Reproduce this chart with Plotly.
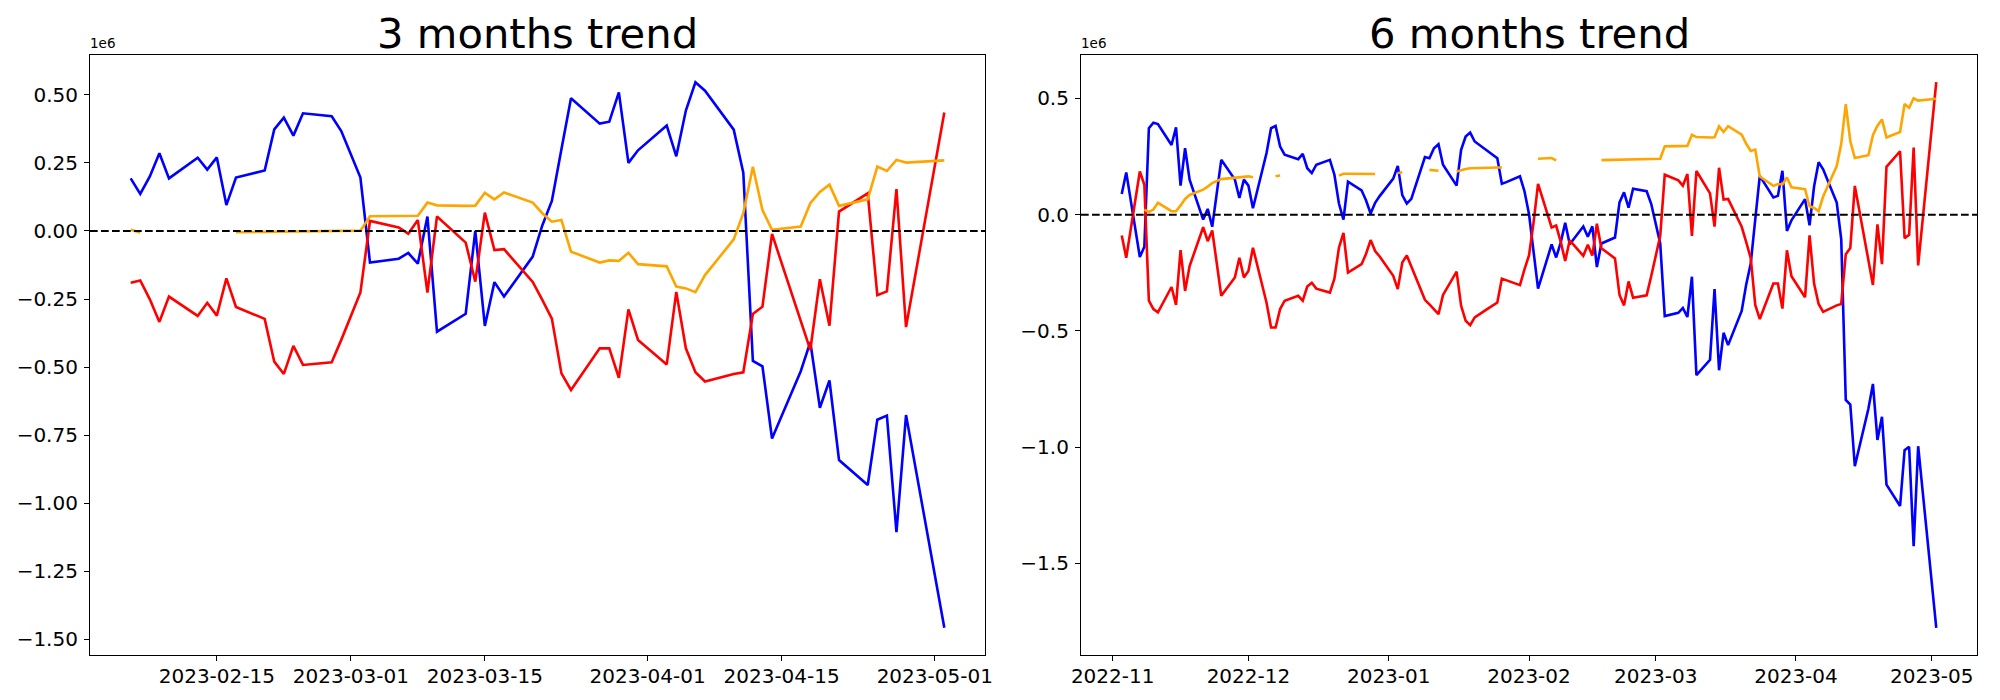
import plotly.graph_objects as go

# ---------------- data (values in units of 1e6) ----------------
left_dates = [
    "2023-02-06", "2023-02-07", "2023-02-08", "2023-02-09", "2023-02-10",
    "2023-02-13", "2023-02-14", "2023-02-15", "2023-02-16", "2023-02-17",
    "2023-02-20", "2023-02-21", "2023-02-22", "2023-02-23", "2023-02-24",
    "2023-02-27", "2023-02-28", "2023-03-01", "2023-03-02", "2023-03-03",
    "2023-03-06", "2023-03-07", "2023-03-08", "2023-03-09", "2023-03-10",
    "2023-03-13", "2023-03-14", "2023-03-15", "2023-03-16", "2023-03-17",
    "2023-03-20", "2023-03-21", "2023-03-22", "2023-03-23", "2023-03-24",
    "2023-03-27", "2023-03-28", "2023-03-29", "2023-03-30", "2023-03-31",
    "2023-04-03", "2023-04-04", "2023-04-05", "2023-04-06", "2023-04-07",
    "2023-04-10", "2023-04-11", "2023-04-12", "2023-04-13", "2023-04-14",
    "2023-04-17", "2023-04-18", "2023-04-19", "2023-04-20", "2023-04-21",
    "2023-04-24", "2023-04-25", "2023-04-26", "2023-04-27", "2023-04-28",
    "2023-05-02",
]
left_blue = [
    0.193, 0.136, 0.200, 0.285, 0.193,
    0.269, 0.225, 0.270, 0.095, 0.196,
    0.222, 0.373, 0.416, 0.350, 0.432,
    0.421, 0.367, 0.282, 0.196, -0.116,
    -0.102, -0.081, -0.120, 0.053, -0.370,
    -0.304, 0.000, -0.349, -0.188, -0.241,
    -0.094, 0.020, 0.110, 0.300, 0.487,
    0.394, 0.401, 0.509, 0.250, 0.296,
    0.387, 0.274, 0.442, 0.546, 0.515,
    0.372, 0.214, -0.477, -0.497, -0.762,
    -0.515, -0.408, -0.649, -0.549, -0.841,
    -0.933, -0.693, -0.678, -1.106, -0.676,
    -1.457,
]
left_red = [
    -0.190, -0.182, -0.251, -0.334, -0.241,
    -0.312, -0.264, -0.311, -0.174, -0.279,
    -0.323, -0.480, -0.525, -0.422, -0.492,
    -0.482, -0.400, -0.315, -0.226, 0.037,
    0.013, -0.010, 0.040, -0.226, 0.053,
    -0.043, -0.186, 0.067, -0.070, -0.067,
    -0.187, -0.253, -0.322, -0.523, -0.584,
    -0.431, -0.431, -0.539, -0.288, -0.400,
    -0.490, -0.224, -0.431, -0.519, -0.553,
    -0.525, -0.519, -0.305, -0.278, -0.011,
    -0.330, -0.437, -0.177, -0.348, 0.071,
    0.138, -0.236, -0.222, 0.154, -0.353,
    0.435,
]
left_orange = [
    0.004, -0.006, None, None, None,
    None, None, None, None, -0.005,
    -0.004, -0.003, -0.002, -0.002, -0.001,
    -0.001, 0.000, 0.000, 0.001, 0.054,
    0.054, 0.054, 0.056, 0.104, 0.094,
    0.092, 0.093, 0.140, 0.116, 0.141,
    0.104, 0.065, 0.034, 0.040, -0.076,
    -0.116, -0.108, -0.110, -0.080, -0.122,
    -0.130, -0.204, -0.211, -0.225, -0.162,
    -0.031, 0.065, 0.236, 0.077, 0.004,
    0.016, 0.102, 0.143, 0.170, 0.092,
    0.116, 0.236, 0.220, 0.261, 0.251,
    0.259,
]

right_dates = [
    "2022-11-03", "2022-11-04", "2022-11-07", "2022-11-08", "2022-11-09",
    "2022-11-10", "2022-11-11", "2022-11-14", "2022-11-15", "2022-11-16",
    "2022-11-17", "2022-11-18", "2022-11-21", "2022-11-22", "2022-11-23",
    "2022-11-25", "2022-11-28", "2022-11-29", "2022-11-30", "2022-12-01",
    "2022-12-02", "2022-12-05", "2022-12-06", "2022-12-07", "2022-12-08",
    "2022-12-09", "2022-12-12", "2022-12-13", "2022-12-14", "2022-12-15",
    "2022-12-16", "2022-12-19", "2022-12-20", "2022-12-21", "2022-12-22",
    "2022-12-23", "2022-12-26", "2022-12-27", "2022-12-28", "2022-12-29",
    "2022-12-30", "2023-01-02", "2023-01-03", "2023-01-04", "2023-01-05",
    "2023-01-06", "2023-01-09", "2023-01-10", "2023-01-11", "2023-01-12",
    "2023-01-13", "2023-01-16", "2023-01-17", "2023-01-18", "2023-01-19",
    "2023-01-20", "2023-01-23", "2023-01-24", "2023-01-25", "2023-01-26",
    "2023-01-27", "2023-01-30", "2023-01-31", "2023-02-01", "2023-02-02",
    "2023-02-03", "2023-02-06", "2023-02-07", "2023-02-08", "2023-02-09",
    "2023-02-10", "2023-02-13", "2023-02-14", "2023-02-15", "2023-02-16",
    "2023-02-17", "2023-02-20", "2023-02-21", "2023-02-22", "2023-02-23",
    "2023-02-24", "2023-02-27", "2023-02-28", "2023-03-01", "2023-03-02",
    "2023-03-03", "2023-03-06", "2023-03-07", "2023-03-08", "2023-03-09",
    "2023-03-10", "2023-03-13", "2023-03-14", "2023-03-15", "2023-03-16",
    "2023-03-17", "2023-03-20", "2023-03-21", "2023-03-22", "2023-03-23",
    "2023-03-24", "2023-03-27", "2023-03-28", "2023-03-29", "2023-03-30",
    "2023-03-31", "2023-04-03", "2023-04-04", "2023-04-05", "2023-04-06",
    "2023-04-07", "2023-04-10", "2023-04-11", "2023-04-12", "2023-04-13",
    "2023-04-14", "2023-04-17", "2023-04-18", "2023-04-19", "2023-04-20",
    "2023-04-21", "2023-04-24", "2023-04-25", "2023-04-26", "2023-04-27",
    "2023-04-28", "2023-05-02",
]
right_blue = [
    0.089, 0.182, -0.182, -0.138, 0.372,
    0.396, 0.390, 0.300, 0.376, 0.125,
    0.286, 0.151, -0.021, 0.025, -0.052,
    0.236, 0.151, 0.072, 0.151, 0.125,
    0.028, 0.265, 0.372, 0.382, 0.293,
    0.258, 0.239, 0.262, 0.200, 0.179,
    0.215, 0.236, 0.172, 0.048, -0.021,
    0.142, 0.105, 0.061, 0.005, 0.051,
    0.080, 0.155, 0.210, 0.084, 0.048,
    0.068, 0.248, 0.243, 0.286, 0.303,
    0.215, 0.125, 0.279, 0.336, 0.353,
    0.315, 0.272, 0.258, 0.243, 0.133,
    0.140, 0.165, 0.101, 0.003, -0.149,
    -0.318, -0.128, -0.184, -0.120, -0.035,
    -0.127, -0.051, -0.095, -0.050, -0.225,
    -0.124, -0.098, 0.053, 0.096, 0.030,
    0.112, 0.101, 0.047, -0.038, -0.124,
    -0.436, -0.422, -0.401, -0.440, -0.267,
    -0.690, -0.624, -0.320, -0.669, -0.508,
    -0.561, -0.414, -0.300, -0.210, -0.020,
    0.167, 0.074, 0.081, 0.189, -0.070,
    -0.024, 0.067, -0.046, 0.122, 0.226,
    0.195, 0.052, -0.106, -0.797, -0.817,
    -1.082, -0.835, -0.728, -0.969, -0.869,
    -1.161, -1.253, -1.013, -0.998, -1.426,
    -0.996, -1.777,
]
right_red = [
    -0.089, -0.185, 0.186, 0.129, -0.370,
    -0.406, -0.420, -0.311, -0.388, -0.152,
    -0.328, -0.221, -0.054, -0.114, -0.068,
    -0.349, -0.270, -0.185, -0.270, -0.242,
    -0.142, -0.379, -0.485, -0.485, -0.406,
    -0.370, -0.349, -0.370, -0.309, -0.293,
    -0.318, -0.335, -0.275, -0.142, -0.078,
    -0.249, -0.213, -0.168, -0.109, -0.156,
    -0.180, -0.263, -0.320, -0.206, -0.175,
    -0.221, -0.366, -0.386, -0.406, -0.428,
    -0.345, -0.245, -0.392, -0.456, -0.475,
    -0.442, -0.403, -0.390, -0.378, -0.275,
    -0.282, -0.303, -0.235, -0.175, -0.035,
    0.133, -0.055, -0.047, -0.116, -0.199,
    -0.110, -0.177, -0.129, -0.176, -0.039,
    -0.144, -0.188, -0.345, -0.390, -0.287,
    -0.357, -0.347, -0.265, -0.180, -0.091,
    0.172, 0.148, 0.125, 0.175, -0.091,
    0.188, 0.092, -0.051, 0.202, 0.065,
    0.068, -0.052, -0.118, -0.187, -0.388,
    -0.449, -0.296, -0.296, -0.404, -0.153,
    -0.265, -0.355, -0.089, -0.296, -0.384,
    -0.418, -0.390, -0.384, -0.170, -0.143,
    0.124, -0.195, -0.302, -0.042, -0.213,
    0.206, 0.273, -0.101, -0.087, 0.289,
    -0.218, 0.570,
]
right_orange = [
    None, None, None, 0.022, 0.012,
    0.022, 0.051, 0.015, 0.015, 0.040,
    0.068, 0.085, 0.108, 0.121, 0.136,
    0.153, 0.160, 0.162, 0.164, 0.165,
    0.161, None, None, 0.165, 0.169,
    None, None, None, None, None,
    None, None, None, 0.168, 0.176,
    0.176, 0.175, 0.175, 0.175, 0.175,
    None, None, 0.179, 0.183, None,
    None, None, 0.193, 0.190, 0.189,
    None, 0.186, 0.193, 0.197, 0.200,
    0.201, 0.202, 0.202, 0.203, 0.203,
    None, None, None, None, None,
    0.241, 0.244, 0.234, None, None,
    None, None, None, None, None,
    0.235, 0.236, 0.237, 0.238, 0.238,
    0.239, 0.239, 0.240, 0.240, 0.241,
    0.294, 0.294, 0.294, 0.296, 0.344,
    0.334, 0.332, 0.333, 0.380, 0.356,
    0.381, 0.344, 0.305, 0.274, 0.280,
    0.164, 0.124, 0.132, 0.130, 0.160,
    0.118, 0.110, 0.036, 0.029, 0.015,
    0.078, 0.209, 0.305, 0.476, 0.317,
    0.244, 0.256, 0.342, 0.383, 0.410,
    0.332, 0.356, 0.476, 0.460, 0.501,
    0.491, 0.499,
]

left_ticks = ["2023-02-15", "2023-03-01", "2023-03-15", "2023-04-01", "2023-04-15", "2023-05-01"]
right_ticks = ["2022-11-01", "2022-12-01", "2023-01-01", "2023-02-01", "2023-03-01", "2023-04-01", "2023-05-01"]
titles = ["3 months trend", "6 months trend"]
offset_label = "1e6"

# ---------------- figure ----------------
FONT = "DejaVu Sans"
colors = {"blue": "#0000FF", "red": "#FF0000", "orange": "#FFA500"}
LW = 2.6

fig = go.Figure()
for xs, ys, c in [(left_dates, left_blue, "blue"), (left_dates, left_red, "red"), (left_dates, left_orange, "orange")]:
    fig.add_trace(go.Scatter(x=xs, y=ys, mode="lines", line=dict(color=colors[c], width=LW),
                             connectgaps=False, xaxis="x", yaxis="y", showlegend=False))
for xs, ys, c in [(right_dates, right_blue, "blue"), (right_dates, right_red, "red"), (right_dates, right_orange, "orange")]:
    fig.add_trace(go.Scatter(x=xs, y=ys, mode="lines", line=dict(color=colors[c], width=LW),
                             connectgaps=False, xaxis="x2", yaxis="y2", showlegend=False))

# the page body has an 8px default margin, so the figure is drawn 8px in from the corner
OFF = 8
W, H = 2000 - 2 * OFF, 700 - 2 * OFF
ax_top, ax_bot = 55 - OFF, 655 - OFF
ydom = [1 - ax_bot / H, 1 - ax_top / H]
left_dom = [(90 - OFF) / W, (985 - OFF) / W]
right_dom = [(1081 - OFF) / W, (1977 - OFF) / W]

common_axis = dict(showline=True, mirror=True, linecolor="black", linewidth=1.1,
                   ticks="outside", ticklen=5, tickwidth=1.1, tickcolor="black",
                   showgrid=False, zeroline=False, automargin=False,
                   tickfont=dict(family=FONT, size=20, color="black"))

fig.update_layout(
    width=W, height=H,
    margin=dict(l=0, r=0, t=0, b=0, autoexpand=False),
    paper_bgcolor="white", plot_bgcolor="white",
    xaxis=dict(domain=left_dom, anchor="y", type="date",
               range=["2023-02-01 18:00", "2023-05-06 06:00"],
               tickvals=left_ticks, tickformat="%Y-%m-%d", ticklabelstandoff=-2, **common_axis),
    yaxis=dict(domain=ydom, anchor="x", range=[-1.557, 0.646],
               tick0=0, dtick=0.25, tickformat=".2f", ticklabelstandoff=2, **common_axis),
    xaxis2=dict(domain=right_dom, anchor="y2", type="date",
                range=["2022-10-25", "2023-05-11"],
                tickvals=right_ticks, tickformat="%Y-%m", ticklabelstandoff=-2, **common_axis),
    yaxis2=dict(domain=ydom, anchor="x2", range=[-1.894, 0.687],
                tick0=0, dtick=0.5, tickformat=".1f", ticklabelstandoff=2, **common_axis),
)

for xref, yref in [("x domain", "y"), ("x2 domain", "y2")]:
    fig.add_shape(type="line", xref=xref, yref=yref, x0=0, x1=1, y0=0, y1=0,
                  line=dict(color="black", width=2, dash="7.7px,3.3px"), layer="above")

for dom, title in [(left_dom, titles[0]), (right_dom, titles[1])]:
    fig.add_annotation(xref="paper", yref="paper", x=(dom[0] + dom[1]) / 2, y=1 - (33 - OFF) / H,
                       text=title, showarrow=False, xanchor="center", yanchor="middle",
                       font=dict(family=FONT, size=41.7, color="black"))
    fig.add_annotation(xref="paper", yref="paper", x=dom[0], y=1 - (53 - OFF) / H,
                       text=offset_label, showarrow=False, xanchor="left", yanchor="bottom",
                       xshift=-2, font=dict(family=FONT, size=13.5, color="black"))

fig.write_html("out.html")
